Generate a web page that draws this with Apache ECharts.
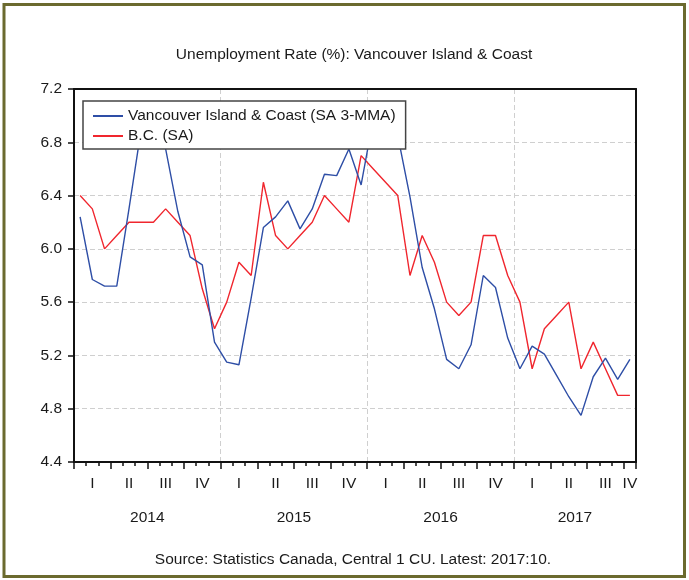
<!DOCTYPE html>
<html>
<head>
<meta charset="utf-8">
<script src="https://cdn.jsdelivr.net/npm/echarts@6/dist/echarts.min.js"></script>
<style>
html,body{margin:0;padding:0;background:#fff;}
#chart{width:689px;height:580px;}
</style>
</head>
<body>
<div id="chart"></div>
<script>
// ---- data (Jan 2014 .. Oct 2017, monthly) ----
const months = [
  '2014-01','2014-02','2014-03','2014-04','2014-05','2014-06','2014-07','2014-08','2014-09','2014-10','2014-11','2014-12',
  '2015-01','2015-02','2015-03','2015-04','2015-05','2015-06','2015-07','2015-08','2015-09','2015-10','2015-11','2015-12',
  '2016-01','2016-02','2016-03','2016-04','2016-05','2016-06','2016-07','2016-08','2016-09','2016-10','2016-11','2016-12',
  '2017-01','2017-02','2017-03','2017-04','2017-05','2017-06','2017-07','2017-08','2017-09','2017-10'
];
const vancouverIsland = [
  6.24, 5.77, 5.72, 5.72, 6.30, 6.90, 7.00, 6.75, 6.28, 5.94, 5.88, 5.30,
  5.15, 5.13, 5.63, 6.16, 6.24, 6.36, 6.15, 6.30, 6.56, 6.55, 6.75, 6.48,
  6.98, 7.02, 6.85, 6.39, 5.86, 5.55, 5.17, 5.10, 5.28, 5.80, 5.71, 5.33,
  5.10, 5.27, 5.21, 5.05, 4.89, 4.75, 5.04, 5.18, 5.02, 5.17
];
const bcRate = [
  6.4, 6.3, 6.0, 6.1, 6.2, 6.2, 6.2, 6.3, 6.2, 6.1, 5.7, 5.4,
  5.6, 5.9, 5.8, 6.5, 6.1, 6.0, 6.1, 6.2, 6.4, 6.3, 6.2, 6.7,
  6.6, 6.5, 6.4, 5.8, 6.1, 5.9, 5.6, 5.5, 5.6, 6.1, 6.1, 5.8,
  5.6, 5.1, 5.4, 5.5, 5.6, 5.1, 5.3, 5.1, 4.9, 4.9
];
const quarterLabels = ['I', 'II', 'III', 'IV'];
const yearLabels = ['2014', '2015', '2016', '2017'];
const yearCenters = [6, 18, 30, 41];   // position (in months) of year label centres
const seriesNames = ['Vancouver Island & Coast (SA 3-MMA)', 'B.C. (SA)'];
const titleText = 'Unemployment Rate (%): Vancouver Island & Coast';
const sourceText = 'Source: Statistics Canada, Central 1 CU. Latest: 2017:10.';

// ---- chart ----
const FONT = '"Liberation Sans", Arial, sans-serif';
const FS = 15.5;
const TXT = '#1a1a1a';
const AX = '#111';
const chart = echarts.init(document.getElementById('chart'), null, {renderer: 'canvas'});

const option = {
  backgroundColor: '#ffffff',
  animation: false,
  textStyle: {fontFamily: FONT},
  title: [
    {text: titleText, left: 349, top: 42, textAlign: 'center',
     textStyle: {fontFamily: FONT, fontSize: FS, fontWeight: 'normal', color: TXT}},
    {text: sourceText, left: 348, top: 547, textAlign: 'center',
     textStyle: {fontFamily: FONT, fontSize: FS, fontWeight: 'normal', color: TXT}}
  ],
  graphic: [{
    type: 'rect', silent: true, z: 100,
    shape: {x: 4, y: 4.5, width: 680.5, height: 572},
    style: {fill: 'none', stroke: '#6b6a2e', lineWidth: 3}
  }],
  legend: {
    orient: 'vertical', left: 83, top: 101,
    data: seriesNames,
    backgroundColor: '#ffffff', borderColor: '#444', borderWidth: 1.5,
    padding: [7, 10, 5, 9],
    itemWidth: 30, itemHeight: 14, itemGap: 4,
    itemStyle: {opacity: 0},
    textStyle: {fontFamily: FONT, fontSize: FS, color: TXT}
  },
  grid: {left: 74, right: 53, top: 89, bottom: 118, show: false},
  xAxis: [
    { // months: data axis, month ticks and quarter labels
      type: 'category', data: months, boundaryGap: true, position: 'bottom',
      axisLine: {lineStyle: {color: AX, width: 2}},
      axisTick: {show: true, interval: 0, length: 4, lineStyle: {color: AX, width: 1.5}},
      axisLabel: {
        interval: function (i) { return i % 3 === 1 || i === months.length - 1; },
        formatter: function (v, i) { return quarterLabels[Math.floor((i % 12) / 3)]; },
        margin: 14, fontFamily: FONT, fontSize: FS, color: TXT
      },
      splitLine: {show: false}
    },
    { // quarter ticks & year gridlines
      type: 'category', data: months, boundaryGap: true, position: 'bottom',
      axisLine: {show: false},
      axisTick: {show: true, interval: function (i) { return i % 3 === 0; }, length: 7, lineStyle: {color: AX, width: 1.5}},
      axisLabel: {show: false},
      splitLine: {show: true, interval: function (i) { return i % 12 === 0 && i > 0 && i < months.length; },
                  lineStyle: {color: '#cfcfcf', type: [5, 3], width: 1}}
    },
    { // year labels
      type: 'value', min: 0, max: months.length, interval: 1, position: 'bottom',
      axisLine: {show: false}, axisTick: {show: false}, splitLine: {show: false},
      axisLabel: {
        showMinLabel: true, showMaxLabel: true,
        formatter: function (v) { const k = yearCenters.indexOf(Math.round(v)); return k >= 0 ? yearLabels[k] : ''; },
        margin: 48, fontFamily: FONT, fontSize: FS, color: TXT
      }
    },
    { // top frame line
      type: 'category', data: months, boundaryGap: true, position: 'top',
      axisLine: {show: true, lineStyle: {color: AX, width: 2}},
      axisTick: {show: false}, axisLabel: {show: false}, splitLine: {show: false}
    }
  ],
  yAxis: [
    {
      type: 'value', min: 4.4, max: 7.2, interval: 0.4, position: 'left',
      axisLine: {show: true, lineStyle: {color: AX, width: 2}},
      axisTick: {show: true, length: 6, lineStyle: {color: AX, width: 1.5}},
      axisLabel: {formatter: function (v) { return v.toFixed(1); }, margin: 12, fontFamily: FONT, fontSize: FS, color: TXT},
      splitLine: {show: true, lineStyle: {color: '#cfcfcf', type: [5, 3], width: 1}}
    },
    { // right frame line
      type: 'value', min: 4.4, max: 7.2, interval: 0.4, position: 'right',
      axisLine: {show: true, lineStyle: {color: AX, width: 2}},
      axisTick: {show: false}, axisLabel: {show: false}, splitLine: {show: false}
    }
  ],
  series: [
    {name: seriesNames[0], type: 'line', data: vancouverIsland, xAxisIndex: 0, yAxisIndex: 0, symbol: 'none',
     lineStyle: {color: '#2e4ea6', width: 1.4}, itemStyle: {color: '#2e4ea6'}, z: 3},
    {name: seriesNames[1], type: 'line', data: bcRate, xAxisIndex: 0, yAxisIndex: 0, symbol: 'none',
     lineStyle: {color: '#f0262e', width: 1.4}, itemStyle: {color: '#f0262e'}, z: 2}
  ]
};
chart.setOption(option);
</script>
</body>
</html>
